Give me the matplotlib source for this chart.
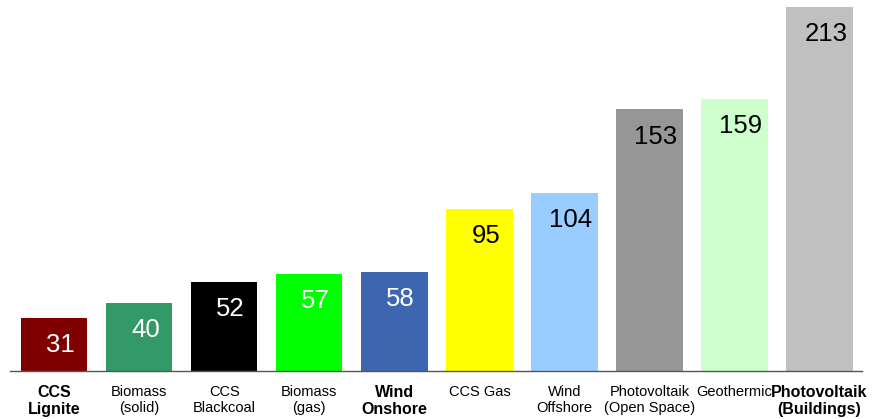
import matplotlib.pyplot as plt

plt.rcParams['font.family'] = ['Liberation Sans', 'DejaVu Sans']

categories = ["CCS\nLignite", "Biomass\n(solid)", "CCS\nBlackcoal", "Biomass\n(gas)",
              "Wind\nOnshore", "CCS Gas", "Wind\nOffshore", "Photovoltaik\n(Open Space)",
              "Geothermic", "Photovoltaik\n(Buildings)"]
values = [31, 40, 52, 57, 58, 95, 104, 153, 159, 213]
bold = [True, False, False, False, True, False, False, False, False, True]
colors = ["#800000", "#339966", "#000000", "#00ff00", "#3c66b0",
          "#ffff00", "#99ccff", "#969696", "#ccffcc", "#c0c0c0"]
label_colors = ["white"] * 5 + ["black"] * 5

fig = plt.figure(figsize=(8.78, 4.19), dpi=100)
ax = fig.add_axes([0.0114, 0.1146, 0.9704, 0.8711])

x = list(range(len(values)))
ax.bar(x, values, width=0.78, color=colors)
ax.set_xlim(-0.52, 9.5)
ax.set_ylim(0, 213.5)

for xi, v, c in zip(x, values, label_colors):
    ax.annotate(str(v), (xi, v), xytext=(4.5, -19.5), textcoords='offset points',
                ha='center', va='center', fontsize=18.5, color=c)

ax.set_xticks(x)
ax.set_xticklabels(categories, linespacing=1.2)
for lab, b in zip(ax.get_xticklabels(), bold):
    if b:
        lab.set_fontweight('bold')
        lab.set_fontsize(11.5)
    else:
        lab.set_fontsize(10.5)
ax.tick_params(axis='x', length=0, pad=10)
ax.set_yticks([])

for s in ['top', 'right', 'left']:
    ax.spines[s].set_visible(False)
ax.spines['bottom'].set_color('#555555')
ax.spines['bottom'].set_linewidth(1)

fig.savefig('out.png', dpi=100)
